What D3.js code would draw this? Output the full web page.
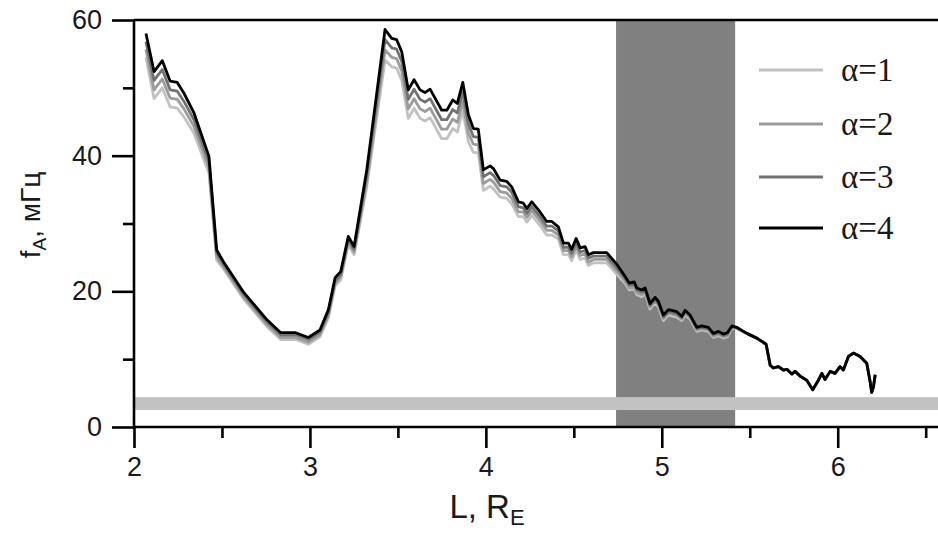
<!DOCTYPE html>
<html>
<head>
<meta charset="utf-8">
<script src="https://cdn.jsdelivr.net/npm/d3@7"></script>
<style>
  html, body { margin: 0; padding: 0; background: #fff; }
  svg { display: block; }
</style>
</head>
<body>
<svg id="chart" width="938" height="539"></svg>
<script>
// ---------------- data ----------------
const L = [2.068,2.114,2.161,2.205,2.246,2.284,2.341,2.426,2.470,2.512,
  2.625,2.756,2.834,2.919,2.991,3.057,3.105,3.143,3.175,3.218,
  3.251,3.323,3.427,3.465,3.493,3.522,3.559,3.592,3.626,3.654,
  3.683,3.749,3.778,3.812,3.838,3.869,3.901,3.929,3.957,3.986,
  4.024,4.043,4.081,4.119,4.147,4.185,4.213,4.233,4.261,4.308,
  4.346,4.375,4.412,4.441,4.469,4.488,4.513,4.536,4.564,4.583,
  4.611,4.687,4.744,4.791,4.816,4.843,4.858,4.886,4.905,4.933,
  4.962,4.981,5.009,5.038,5.085,5.114,5.132,5.161,5.199,5.227,
  5.265,5.293,5.322,5.350,5.373,5.398,5.426,5.483,5.540,5.593,
  5.616,5.634,5.663,5.691,5.711,5.739,5.758,5.786,5.824,5.858,
  5.890,5.910,5.928,5.957,5.985,6.013,6.032,6.061,6.089,6.127,
  6.165,6.184,6.193,6.203,6.213];

const alpha1 = [54.5,48.4,50.0,47.2,47.0,45.7,43.3,37.4,24.6,23.2,
  18.8,14.8,12.9,12.9,12.2,13.3,16.1,20.8,21.7,26.9,
  25.4,35.4,54.1,53.1,52.9,51.1,45.5,47.0,45.5,45.1,
  45.6,42.5,42.5,44.0,43.5,46.6,42.0,40.5,40.4,34.9,
  35.5,35.1,33.9,33.7,32.9,31.0,31.0,30.2,31.2,29.7,
  28.3,28.3,27.7,25.4,25.4,24.5,26.1,24.7,24.9,23.8,
  24.2,24.2,22.5,21.2,20.2,20.4,19.5,19.2,19.7,17.4,
  18.3,17.7,15.7,16.5,16.2,15.7,16.6,15.9,14.1,14.3,
  14.1,13.2,13.5,13.1,13.3,14.5,14.5,13.8,13.1,12.2,
  9.1,8.7,8.9,8.4,8.5,7.8,8.2,7.5,6.9,5.5,
  6.9,7.9,7.0,8.2,7.9,8.9,8.4,10.4,10.9,10.4,
  9.4,6.7,5.1,5.9,7.7];

const alpha2 = [55.7,49.7,51.3,48.5,48.3,46.9,44.3,38.2,25.1,23.5,
  19.1,15.1,13.2,13.2,12.5,13.6,16.5,21.2,22.1,27.3,
  25.8,36.2,55.6,54.5,54.3,52.5,46.9,48.4,46.9,46.5,
  47.0,43.9,43.9,45.4,44.9,48.0,43.3,41.7,41.6,35.9,
  36.5,36.1,34.7,34.5,33.7,31.7,31.7,30.9,31.9,30.4,
  29.0,29.0,28.3,26.0,26.0,25.1,26.7,25.3,25.5,24.3,
  24.7,24.7,23.0,21.5,20.5,20.7,19.8,19.5,20.0,17.7,
  18.6,18.0,16.0,16.8,16.5,15.9,16.8,16.1,14.3,14.5,
  14.3,13.4,13.7,13.3,13.5,14.6,14.6,13.8,13.1,12.2,
  9.1,8.7,8.9,8.4,8.5,7.8,8.2,7.5,6.9,5.5,
  6.9,7.9,7.0,8.2,7.9,8.9,8.4,10.4,10.9,10.4,
  9.4,6.7,5.1,5.9,7.7];

const alpha3 = [56.8,51.1,52.7,49.7,49.5,48.0,45.3,39.1,25.6,23.9,
  19.5,15.5,13.6,13.6,12.9,14.0,16.9,21.6,22.5,27.7,
  26.2,37.1,57.1,55.9,55.7,53.9,48.3,49.8,48.3,47.9,
  48.4,45.3,45.3,46.8,46.3,49.4,44.7,42.8,42.7,36.9,
  37.5,37.1,35.6,35.4,34.6,32.5,32.3,31.5,32.5,31.0,
  29.6,29.6,28.9,26.5,26.5,25.6,27.2,25.8,26.0,24.9,
  25.2,25.2,23.5,21.9,20.9,21.1,20.2,19.9,20.2,17.9,
  18.8,18.2,16.2,17.0,16.7,16.1,17.0,16.3,14.5,14.7,
  14.5,13.6,13.9,13.5,13.7,14.8,14.6,13.8,13.1,12.2,
  9.1,8.7,8.9,8.4,8.5,7.8,8.2,7.5,6.9,5.5,
  6.9,7.9,7.0,8.2,7.9,8.9,8.4,10.4,10.9,10.4,
  9.4,6.7,5.1,5.9,7.7];

const alpha4 = [58.0,52.4,54.0,51.0,50.8,49.2,46.3,39.9,26.1,24.2,
  19.8,15.8,13.9,13.9,13.2,14.3,17.3,22.0,22.9,28.1,
  26.6,37.9,58.6,57.3,57.1,55.3,49.7,51.2,49.7,49.3,
  49.8,46.7,46.7,48.2,47.7,50.8,46.0,44.0,43.9,37.9,
  38.5,38.1,36.4,36.2,35.4,33.2,33.0,32.2,33.2,31.7,
  30.3,30.3,29.5,27.1,27.1,26.2,27.8,26.4,26.6,25.4,
  25.7,25.7,24.0,22.2,21.2,21.4,20.5,20.2,20.5,18.2,
  19.1,18.5,16.5,17.3,17.0,16.3,17.2,16.5,14.7,14.9,
  14.7,13.8,14.1,13.7,13.9,14.9,14.7,13.8,13.1,12.2,
  9.1,8.7,8.9,8.4,8.5,7.8,8.2,7.5,6.9,5.5,
  6.9,7.9,7.0,8.2,7.9,8.9,8.4,10.4,10.9,10.4,
  9.4,6.7,5.1,5.9,7.7];

const seriesNames = ["α=1", "α=2", "α=3", "α=4"];
const seriesValues = [alpha1, alpha2, alpha3, alpha4];
const seriesColors = ["#c2c2c2", "#9c9c9c", "#727272", "#000000"];

const xMajorTicks = [2, 3, 4, 5, 6];
const xMinorTicks = [2.5, 3.5, 4.5, 5.5, 6.5];
const yMajorTicks = [0, 20, 40, 60];
const yMinorTicks = [10, 30, 50];

const verticalBand = [4.74, 5.417];   // L range, dark band
const horizontalBand = [2.5, 4.4];    // f range, light band

// ---------------- drawing ----------------
const svg = d3.select("#chart");
const x = d3.scaleLinear().domain([2, 6.57]).range([134, 938]);
const y = d3.scaleLinear().domain([0, 60]).range([427, 20]);

// dark vertical band
svg.append("rect")
  .attr("x", x(verticalBand[0])).attr("y", y(60))
  .attr("width", x(verticalBand[1]) - x(verticalBand[0]))
  .attr("height", y(0) - y(60))
  .attr("fill", "#808080");

// light horizontal band
svg.append("rect")
  .attr("x", x(2)).attr("y", y(horizontalBand[1]))
  .attr("width", x(6.57) - x(2))
  .attr("height", y(horizontalBand[0]) - y(horizontalBand[1]))
  .attr("fill", "#c2c2c2");

// curves
const line = d3.line().x((d, i) => x(L[i])).y(d => y(d));
seriesValues.forEach((vals, k) => {
  svg.append("path")
    .datum(vals)
    .attr("d", line)
    .attr("fill", "none")
    .attr("stroke", seriesColors[k])
    .attr("stroke-width", 2.8)
    .attr("stroke-linejoin", "round");
});

// axes
const axisFont = "'Liberation Sans', Arial, sans-serif";
const gx = svg.append("g").attr("transform", `translate(0,${y(0)})`);
gx.call(d3.axisBottom(x).tickValues(xMajorTicks).tickSize(21).tickPadding(9)
  .tickFormat(d3.format("d")));
const gxm = svg.append("g").attr("transform", `translate(0,${y(0)})`);
gxm.call(d3.axisBottom(x).tickValues(xMinorTicks).tickSize(11).tickFormat(""));
gxm.select(".domain").remove();

const gy = svg.append("g").attr("transform", `translate(${x(2)},0)`);
gy.call(d3.axisLeft(y).tickValues(yMajorTicks).tickSize(22).tickPadding(10)
  .tickFormat(d3.format("d")));
const gym = svg.append("g").attr("transform", `translate(${x(2)},0)`);
gym.call(d3.axisLeft(y).tickValues(yMinorTicks).tickSize(11).tickFormat(""));
gym.select(".domain").remove();

svg.selectAll(".domain").attr("stroke", "#000").attr("stroke-width", 2.6);
svg.selectAll(".tick line").attr("stroke", "#000").attr("stroke-width", 2.6);
svg.selectAll(".tick text").attr("font-family", axisFont).attr("font-size", 27).attr("fill", "#1a1a1a");
gx.select(".domain").attr("d", `M${x(2)},0H${x(6.57)}`);
gy.select(".domain").attr("d", `M0,${y(0)}V${y(60)}`);

// top frame line
svg.append("line")
  .attr("x1", x(2)).attr("x2", x(6.57))
  .attr("y1", y(60)).attr("y2", y(60))
  .attr("stroke", "#000").attr("stroke-width", 2.6);

// axis titles
const xt = svg.append("text")
  .attr("x", 487).attr("y", 518)
  .attr("text-anchor", "middle")
  .attr("font-family", axisFont).attr("font-size", 33).attr("fill", "#1a1a1a");
xt.append("tspan").text("L, R");
xt.append("tspan").attr("font-size", 22).attr("dy", 7).text("E");

const yt = svg.append("text")
  .attr("transform", "translate(40,215) rotate(-90)")
  .attr("text-anchor", "middle")
  .attr("font-family", axisFont).attr("font-size", 28).attr("fill", "#1a1a1a");
yt.append("tspan").text("f");
yt.append("tspan").attr("font-size", 19).attr("dy", 6).text("A");
yt.append("tspan").attr("dy", -6).text(", мГц");

// legend
const legendY = [70, 124, 177, 228];
seriesNames.forEach((name, k) => {
  svg.append("line")
    .attr("x1", 759).attr("x2", 823)
    .attr("y1", legendY[k]).attr("y2", legendY[k])
    .attr("stroke", seriesColors[k]).attr("stroke-width", 3);
  svg.append("text")
    .attr("x", 841).attr("y", legendY[k] + 11)
    .attr("font-family", "'Liberation Serif', 'Times New Roman', serif")
    .attr("font-size", 33).attr("fill", "#1a1a1a")
    .text(name);
});
</script>
</body>
</html>
